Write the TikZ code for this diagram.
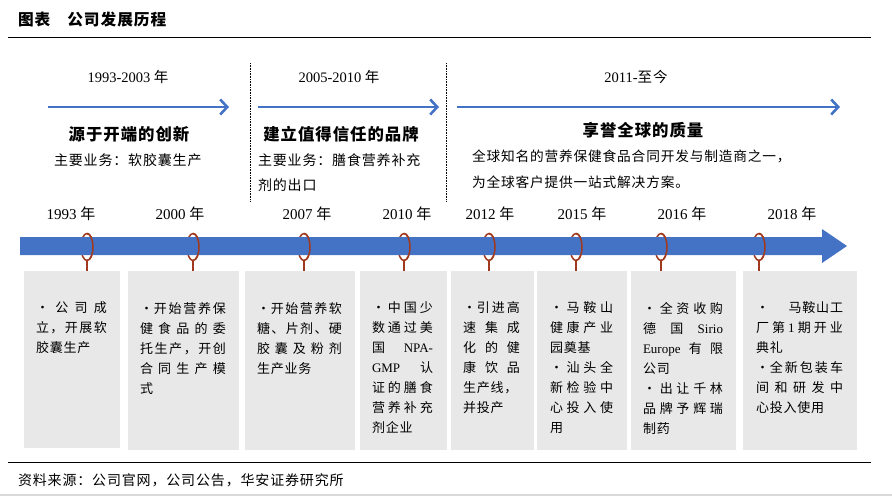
\documentclass[tikz,border=0pt]{standalone}
\usepackage{fontspec}
\setmainfont{Liberation Serif}
\newfontfamily\cjk{Noto Sans CJK SC}[LetterSpace=6]
\usetikzlibrary{arrows.meta, shapes.geometric}

\definecolor{tlblue}{HTML}{4472C4}
\definecolor{ringred}{HTML}{A0391D}
\definecolor{cardgrey}{HTML}{E8E8E8}
\definecolor{edgegrey}{HTML}{D9D9D9}

% spread one line over the full text width
\newcommand{\jl}[1]{\makebox[\hsize][s]{\spaceskip=0pt plus 1fil\relax #1}}

\begin{document}
\begin{tikzpicture}[x=1pt, y=-1pt,
    every node/.style={inner sep=0pt, outer sep=0pt},
    period/.style={draw=tlblue, line width=2.6pt, -{Straight Barb[length=7pt, width=15pt]}},
    sepline/.style={densely dotted, line width=0.6pt},
    headtext/.style={font=\fontsize{14.5}{18}\selectfont},
    yeartext/.style={font=\fontsize{15}{18}\selectfont},
    bigtitle/.style={font=\cjk\bfseries\fontsize{16.4}{20}\selectfont},
    plaintext/.style={font=\cjk\fontsize{14}{25}\selectfont, align=left, anchor=north west},
    card/.style={fill=cardgrey, anchor=north west, minimum height=179pt},
    cardtext/.style={font=\cjk\fontsize{13}{20}\selectfont, align=left, anchor=north west},
    ring/.style={ellipse, draw=ringred, line width=1.5pt, minimum width=12pt, minimum height=27pt},
    stem/.style={draw=ringred, line width=1.5pt}
]
\useasboundingbox (0,0) rectangle (892,496);

% Title and rules
\node[anchor=west, font=\cjk\bfseries\fontsize{15.7}{18}\selectfont] (title) at (18,20) {图表\hspace{17pt}公司发展历程};
\draw[line width=1pt] (8,37) -- (871,37);
\draw[line width=1pt] (8,462) -- (871,462);
\draw[edgegrey, line width=1.5pt] (0,495) -- (892,495);
\node[anchor=west, font=\cjk\fontsize{14}{18}\selectfont] (source) at (18,480) {资料来源：公司官网，公司公告，华安证券研究所};

% Period separators
\draw[sepline] (250,63) -- (250,201);
\draw[sepline] (446,63) -- (446,201);

% Period headers
\node[headtext] (h1) at (128,77) {1993-2003 {\cjk 年}};
\node[headtext] (h2) at (339,77) {2005-2010 {\cjk 年}};
\node[headtext] (h3) at (636,77) {2011-{\cjk 至今}};

% Period arrows
\coordinate (p1s) at (48,107);
\coordinate (p1e) at (229,107);
\coordinate (p2s) at (258,107);
\coordinate (p2e) at (439,107);
\coordinate (p3s) at (457,107);
\coordinate (p3e) at (840,107);
\draw[period] (p1s) -- (p1e);
\draw[period] (p2s) -- (p2e);
\draw[period] (p3s) -- (p3e);

% Period titles
\node[bigtitle] (g1) at (129,134) {源于开端的创新};
\node[bigtitle] (g2) at (341,134) {建立值得信任的品牌};
\node[bigtitle] (g3) at (643,130) {享誉全球的质量};
\node[plaintext, anchor=west] (s1) at (54,160) {主要业务：软胶囊生产};
\node[plaintext] (s2) at (258,154) {主要业务：膳食营养补充\\剂的出口};
\node[plaintext, font=\cjk\fontsize{13.7}{26}\selectfont] (s3) at (472,150) {全球知名的营养保健食品合同开发与制造商之一，\\为全球客户提供一站式解决方案。};

% Year labels
\node[yeartext] (y1) at (71,214) {1993 {\cjk 年}};
\node[yeartext] (y2) at (180,214) {2000 {\cjk 年}};
\node[yeartext] (y3) at (307,214) {2007 {\cjk 年}};
\node[yeartext] (y4) at (407,214) {2010 {\cjk 年}};
\node[yeartext] (y5) at (490,214) {2012 {\cjk 年}};
\node[yeartext] (y6) at (582,214) {2015 {\cjk 年}};
\node[yeartext] (y7) at (682,214) {2016 {\cjk 年}};
\node[yeartext] (y8) at (792,214) {2018 {\cjk 年}};

% Event cards
\node[card, minimum width=96pt, minimum height=177pt] (c1) at (24,271) {};
\node[card, minimum width=111pt] (c2) at (128,271) {};
\node[card, minimum width=110pt] (c3) at (245,271) {};
\node[card, minimum width=87pt] (c4) at (360,271) {};
\node[card, minimum width=83pt] (c5) at (451,271) {};
\node[card, minimum width=90pt] (c6) at (537,271) {};
\node[card, minimum width=105pt] (c7) at (631,271) {};
\node[card, minimum width=114pt] (c8) at (743,271) {};

\node[cardtext, text width=71pt] (t1) at (36,302) {\jl{· 公 司 成}\\\jl{立 ， 开 展 软}\\胶囊生产};
\node[cardtext, text width=86pt] (t2) at (140,302) {\jl{·开 始 营 养 保}\\\jl{健 食 品 的 委}\\\jl{托 生 产 ， 开 创}\\\jl{合 同 生 产 模}\\式};
\node[cardtext, text width=85pt] (t3) at (257,302) {\jl{·开 始 营 养 软}\\\jl{糖 、 片 剂 、 硬}\\\jl{胶 囊 及 粉 剂}\\生产业务};
\node[cardtext, text width=61pt] (t4) at (372,302) {\jl{· 中 国 少}\\\jl{数 通 过 美}\\\jl{国 {\rmfamily NPA-}}\\\jl{{\rmfamily GMP} 认}\\\jl{证 的 膳 食}\\\jl{营 养 补 充}\\剂企业};
\node[cardtext, text width=57pt] (t5) at (463,302) {\jl{·引 进 高}\\\jl{速 集 成}\\\jl{化 的 健}\\\jl{康 饮 品}\\生产线，\\并投产};
\node[cardtext, text width=63pt] (t6) at (550,302) {\jl{· 马 鞍 山}\\\jl{健 康 产 业}\\园奠基\\\jl{· 汕 头 全}\\\jl{新 检 验 中}\\\jl{心 投 入 使}\\用};
\node[cardtext, text width=80pt] (t7) at (643,302) {\jl{· 全 资 收 购}\\\jl{德 国 {\rmfamily Sirio}}\\\jl{{\rmfamily Europe} 有 限}\\公司\\\jl{· 出 让 千 林}\\\jl{品 牌 予 辉 瑞}\\制药};
\node[cardtext, text width=87pt] (t8) at (756,302) {\jl{· 马鞍山工}\\\jl{厂 第 {\rmfamily 1} 期 开 业}\\典礼\\\jl{·全 新 包 装 车}\\\jl{间 和 研 发 中}\\心投入使用};

% Rings (back half)
\node[ring] (r1) at (87,247) {};
\node[ring] (r2) at (193,247) {};
\node[ring] (r3) at (304,247) {};
\node[ring] (r4) at (404,247) {};
\node[ring] (r5) at (489,247) {};
\node[ring] (r6) at (576,247) {};
\node[ring] (r7) at (661,247) {};
\node[ring] (r8) at (759,247) {};

% Timeline bar
\fill[tlblue] (20,237) -- (822,237) -- (822,229) -- (847,246) -- (822,263) -- (822,255) -- (20,255) -- cycle;

% Rings (front half) and stems
\foreach \i in {1,...,8} {
  \begin{scope}
    \clip ([yshift=3pt]r\i.north) rectangle ([xshift=3pt, yshift=-3pt]r\i.south east);
    \node[ring] at (r\i) {};
  \end{scope}
  \draw[stem] (r\i.south) -- (r\i.south |- c\i.north);
}
\end{tikzpicture}
\end{document}
